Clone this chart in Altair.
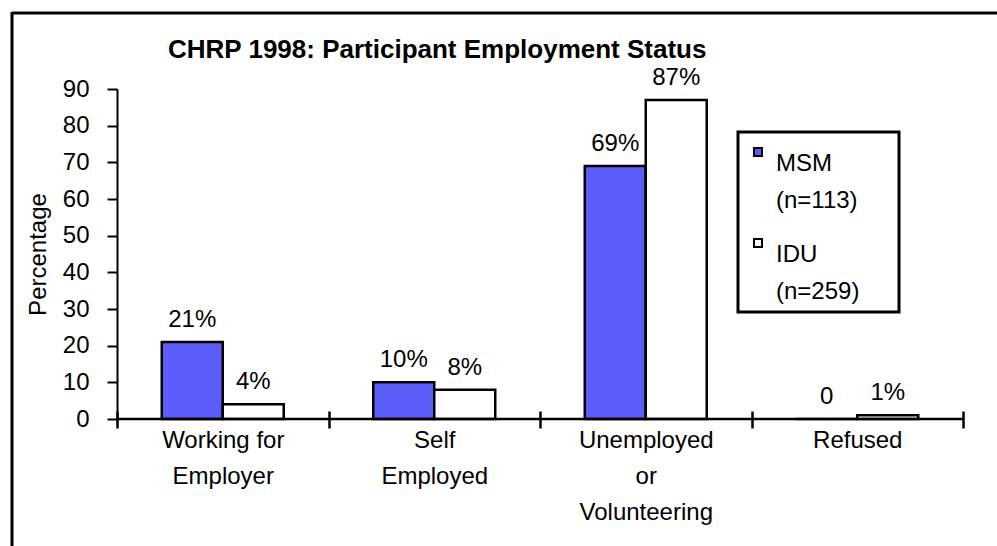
import json
import altair as alt
import pandas as pd

# ---- data ----
categories = ["Working for Employer", "Self Employed", "Unemployed or Volunteering", "Refused"]
category_lines = [["Working for", "Employer"], ["Self", "Employed"], ["Unemployed", "or", "Volunteering"], ["Refused"]]
series = ["MSM", "IDU"]
series_n = ["(n=113)", "(n=259)"]
msm_values = [21, 10, 69, 0]
idu_values = [4, 8, 87, 1]
msm_labels = ["21%", "10%", "69%", "0"]
idu_labels = ["4%", "8%", "87%", "1%"]
y_ticks = [0, 10, 20, 30, 40, 50, 60, 70, 80, 90]
title_text = "CHRP 1998: Participant Employment Status"

FONT = "Liberation Sans"
FS = 24

rows = []
for i, c in enumerate(categories):
    rows.append({"category": c, "series": series[0], "value": msm_values[i], "label": msm_labels[i]})
    rows.append({"category": c, "series": series[1], "value": idu_values[i], "label": idu_labels[i]})
df = pd.DataFrame(rows)

# label expressions
x_label_expr = "null"
for c, lines in zip(reversed(categories), reversed(category_lines)):
    x_label_expr = f"datum.value == {json.dumps(c)} ? {json.dumps(lines)} : ({x_label_expr})"
leg_label_expr = "datum.label"
for s, n in zip(reversed(series), reversed(series_n)):
    leg_label_expr = f"datum.label == {json.dumps(s)} ? {json.dumps([s, n])} : ({leg_label_expr})"

x_enc = alt.X(
    "category:N",
    sort=categories,
    scale=alt.Scale(paddingInner=0, paddingOuter=0),
    axis=alt.Axis(
        title=None, tickBand="extent", domain=False, offset=-8, tickSize=17,
        tickWidth=2.5, tickColor="black", labelAngle=0, labelExpr=x_label_expr,
        labelFontSize=FS, labelLineHeight=36, labelPadding=0, labelBaseline="top",
        labelColor="black", labelFont=FONT, grid=False,
    ),
)
xoff = alt.XOffset("series:N", sort=series, scale=alt.Scale(paddingOuter=0.734, paddingInner=0))
y_scale = alt.Scale(domain=[0, 90], nice=False)
y_axis = alt.Axis(
    values=y_ticks, title="Percentage", titleFontSize=FS, titleFontWeight="normal",
    titleFont=FONT, titleColor="black", titlePadding=12,
    tickSize=10, tickWidth=2, tickColor="black", domainWidth=2, domainColor="black",
    labelFontSize=FS, labelFont=FONT, labelColor="black", labelPadding=18, grid=False,
    labelOverlap=False,
)
y_enc = alt.Y("value:Q", scale=y_scale, axis=y_axis)

base = alt.Chart(df)

bars = base.mark_bar(stroke="black", strokeWidth=2.5).encode(
    x=x_enc, xOffset=xoff, y=y_enc,
    color=alt.Color(
        "series:N", sort=series,
        scale=alt.Scale(domain=series, range=["#5c5cfa", "#ffffff"]),
        legend=alt.Legend(
            title=".", titleOrient="right", titleFontSize=1, titleOpacity=0, titlePadding=31,
            orient="none", legendX=621, legendY=43,
            strokeColor="black", fillColor="white", padding=8,
            labelExpr=leg_label_expr, labelFontSize=FS, labelFont=FONT, labelColor="black",
            labelBaseline="top", labelOffset=6, symbolType="square", symbolSize=64,
            symbolStrokeColor="black", symbolStrokeWidth=2, rowPadding=18,
            labelLimit=300,
        ),
    ),
)

texts = base.mark_text(baseline="bottom", dy=-10, fontSize=FS, font=FONT, color="black").encode(
    x=x_enc, xOffset=xoff, y=y_enc, text="label:N"
)

zero = alt.Chart(pd.DataFrame({"v": [0]})).mark_rule(color="black", strokeWidth=2.5).encode(
    y=alt.YDatum(0, scale=y_scale, axis=y_axis)
)

frame_top = alt.Chart(pd.DataFrame({"v": [0]})).mark_rule(color="black", strokeWidth=3).encode(
    x=alt.value(-105), x2=alt.value(900), y=alt.value(-76)
)
frame_left = alt.Chart(pd.DataFrame({"v": [0]})).mark_rule(color="black", strokeWidth=3).encode(
    x=alt.value(-105), y=alt.value(-77), y2=alt.value(470)
)

chart = alt.layer(frame_top, frame_left, bars, zero, texts).properties(
    width=846, height=330,
    title=alt.TitleParams(
        title_text, anchor="start", frame="group", dx=51, dy=87, fontSize=26, fontWeight="bold",
        font=FONT, color="black", baseline="alphabetic", offset=14,
    ),
    autosize=alt.AutoSizeParams(type="none"),
    padding={"left": 117, "top": 89, "right": 34, "bottom": 127},
).configure(
    background="white", style={"guide-label": {"lineHeight": 37}}
).configure_view(stroke=None).configure_legend(strokeWidth=3)

chart.save("out.html", embed_options={"renderer": "svg", "actions": False})
